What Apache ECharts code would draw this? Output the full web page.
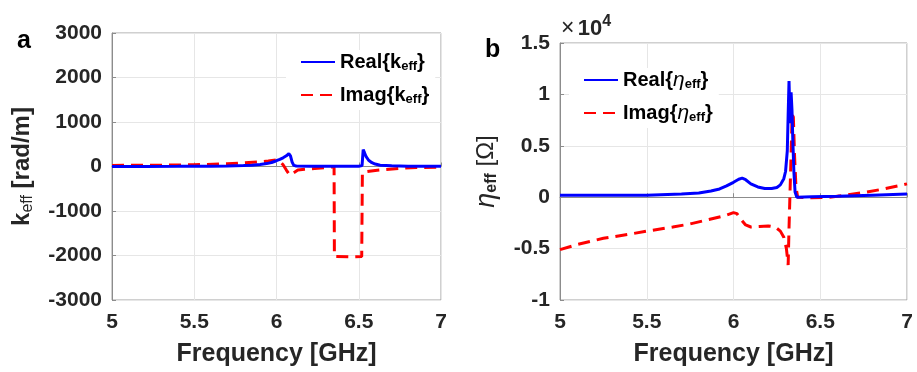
<!DOCTYPE html>
<html>
<head>
<meta charset="utf-8">
<script src="https://cdn.jsdelivr.net/npm/echarts@6/dist/echarts.min.js"></script>
<style>
html,body{margin:0;padding:0;background:#fff;}
#chart{width:917px;height:372px;}
</style>
</head>
<body>
<div id="chart"></div>
<script>
// ---- Data ----
const xTicks = [5, 5.5, 6, 6.5, 7];

// Panel a: k_eff [rad/m]
const kRealFreq = [5.0,5.2,5.4,5.6,5.7,5.8,5.85,5.9,5.94,5.97,6.0,6.02,6.04,6.06,6.075,6.085,6.095,6.105,6.12,6.2,6.3,6.4,6.5,6.52,6.527,6.535,6.545,6.56,6.58,6.6,6.63,6.7,6.8,7.0];
const kRealVal  = [0,2,4,8,12,20,30,45,65,90,130,160,195,240,290,240,100,25,10,5,3,3,6,20,380,310,220,140,85,55,30,15,8,5];

const kImagFreq = [5.0,5.3,5.5,5.7,5.8,5.9,5.95,6.0,6.02,6.04,6.06,6.08,6.09,6.1,6.13,6.17,6.25,6.33,6.35,6.352,6.45,6.518,6.522,6.54,6.6,6.65,6.75,6.85,7.0];
const kImagVal  = [25,30,40,60,80,105,125,150,120,40,-80,-190,-200,-150,-80,-60,-40,-10,0,-2020,-2030,-2020,-150,-120,-90,-70,-40,-25,-15];

// Panel b: eta_eff [Ohm], in units of 1e4
const etaRealFreq = [5.0,5.3,5.5,5.7,5.8,5.87,5.92,5.96,6.0,6.03,6.05,6.07,6.1,6.14,6.18,6.22,6.25,6.27,6.29,6.30,6.31,6.315,6.32,6.325,6.328,6.332,6.337,6.342,6.348,6.355,6.365,6.45,6.6,6.8,7.0];
const etaRealVal  = [0.02,0.02,0.02,0.03,0.04,0.06,0.08,0.11,0.145,0.175,0.185,0.17,0.13,0.10,0.085,0.085,0.095,0.12,0.18,0.25,0.45,0.8,1.13,0.8,0.72,1.02,0.85,0.55,0.25,0.05,0.0,0.005,0.01,0.02,0.03];

const etaImagFreq = [5.0,5.1,5.25,5.4,5.5,5.65,5.75,5.85,5.95,6.0,6.02,6.04,6.07,6.1,6.15,6.2,6.24,6.27,6.29,6.305,6.315,6.32,6.33,6.338,6.345,6.352,6.36,6.37,6.45,6.55,6.65,6.75,6.85,6.95,7.0];
const etaImagVal  = [-0.51,-0.46,-0.40,-0.36,-0.33,-0.29,-0.26,-0.22,-0.18,-0.15,-0.16,-0.21,-0.27,-0.29,-0.285,-0.28,-0.29,-0.33,-0.39,-0.5,-0.66,-0.3,0.3,0.8,0.78,0.4,0.1,0.0,-0.005,0.0,0.02,0.045,0.075,0.11,0.13];

const kTicks = [-3000,-2000,-1000,0,1000,2000,3000];
const etaTicks = [-1,-0.5,0,0.5,1,1.5];

const names = ['Real{k_eff}','Imag{k_eff}','Real{eta_eff}','Imag{eta_eff}'];

// ---- Helpers ----
const zip = (xs, ys) => xs.map((x, i) => [x, ys[i]]);
const FF = '"Liberation Sans", Arial, sans-serif';
const BLUE = '#0000ff', RED = '#ff0000';

const legendRich = {
  n: {fontSize:20, fontWeight:'bold', fontFamily:FF, color:'#000', lineHeight:22},
  s: {fontSize:13, fontWeight:'bold', fontFamily:FF, color:'#000', lineHeight:7, verticalAlign:'bottom'},
  it:{fontSize:21, fontStyle:'italic', fontWeight:'normal', fontFamily:FF, color:'#000', lineHeight:22}
};
const legendFmt = {
  'Real{k_eff}': '{n|Real{k}{s|eff}}',
  'Imag{k_eff}': '{n|Imag{k}{s|eff}}',
  'Real{eta_eff}': '{n|Real{}{it|η}{s|eff}}',
  'Imag{eta_eff}': '{n|Imag{}{it|η}{s|eff}}'
};

function xAxisCfg(gi) {
  return {
    type:'value', gridIndex:gi, min:5, max:7, interval:0.5,
    axisLine:{show:true, lineStyle:{color:'#8c8c8c', width:1}},
    axisTick:{show:true, inside:true, length:4, lineStyle:{color:'#8c8c8c'}},
    splitLine:{show:true, lineStyle:{color:'#e6e6e6', width:1}},
    axisLabel:{fontSize:21, fontWeight:'bold', fontFamily:FF, color:'#262626', margin:12,
      formatter: v => xTicks.includes(v) ? String(v) : ''},
    name:'Frequency [GHz]', nameLocation:'middle', nameGap:42,
    nameTextStyle:{fontSize:25, fontWeight:'bold', fontFamily:FF, color:'#262626'}
  };
}

const legendBase = {
  orient:'vertical', padding:[1,6,4,14], backgroundColor:'#fff',
  itemWidth:34, itemHeight:14, itemGap:11,
  itemStyle:{opacity:0},
  textStyle:{fontSize:20, fontWeight:'bold', fontFamily:FF, color:'#000', lineHeight:22, rich:legendRich},
  formatter: n => legendFmt[n]
};

const option = {
  backgroundColor:'#fff',
  animation:false,
  grid:[
    {left:112, top:33, width:329, height:270, show:true, borderColor:'#a0a0a0', borderWidth:1, containLabel:false},
    {left:560, top:43, width:347, height:260, show:true, borderColor:'#a0a0a0', borderWidth:1, containLabel:false}
  ],
  xAxis:[xAxisCfg(0), xAxisCfg(1)],
  yAxis:[
    {
      type:'value', gridIndex:0, min:kTicks[0], max:kTicks[kTicks.length-1], interval:1000,
      axisLine:{show:true, lineStyle:{color:'#8c8c8c'}},
      axisTick:{show:true, inside:true, length:4, lineStyle:{color:'#8c8c8c'}},
      splitLine:{show:true, lineStyle:{color:'#e6e6e6'}},
      axisLabel:{fontSize:21, fontWeight:'bold', fontFamily:FF, color:'#262626', margin:10,
        formatter: v => kTicks.includes(v) ? String(v) : ''},
      name:'{b|k}{s|eff}{b| [rad/m]}', nameLocation:'middle', nameGap:76, nameRotate:90,
      nameTextStyle:{
        rich:{
          b:{fontSize:24, fontWeight:'bold', fontFamily:FF, color:'#262626', lineHeight:28},
          s:{fontSize:16, fontWeight:'normal', fontFamily:FF, color:'#262626', lineHeight:10, verticalAlign:'bottom'}
        }
      }
    },
    {
      type:'value', gridIndex:1, min:etaTicks[0], max:etaTicks[etaTicks.length-1], interval:0.5,
      axisLine:{show:true, lineStyle:{color:'#8c8c8c'}},
      axisTick:{show:true, inside:true, length:4, lineStyle:{color:'#8c8c8c'}},
      splitLine:{show:true, lineStyle:{color:'#e6e6e6'}},
      axisLabel:{fontSize:21, fontWeight:'bold', fontFamily:FF, color:'#262626', margin:10,
        formatter: v => etaTicks.includes(v) ? String(v) : ''},
      name:'{it|η}{s|eff}{r| [Ω]}', nameLocation:'middle', nameGap:60, nameRotate:90,
      nameTextStyle:{
        rich:{
          it:{fontSize:27, fontStyle:'italic', fontFamily:FF, color:'#262626', lineHeight:28},
          s:{fontSize:16, fontWeight:'bold', fontFamily:FF, color:'#262626', lineHeight:10, verticalAlign:'bottom'},
          r:{fontSize:24, fontWeight:'normal', fontFamily:FF, color:'#262626', lineHeight:28}
        }
      }
    }
  ],
  legend:[
    Object.assign({}, legendBase, {data:[names[0], names[1]], left:286, top:50}),
    Object.assign({}, legendBase, {data:[names[2], names[3]], left:569, top:68})
  ],
  graphic:[
    {type:'text', left:17, top:29, style:{text:'a', fontSize:25, fontWeight:'bold', fontFamily:FF, fill:'#000'}},
    {type:'text', left:485, top:38, style:{text:'b', fontSize:25, fontWeight:'bold', fontFamily:FF, fill:'#000'}},
    {type:'text', left:561, top:14, style:{
      text:'{x|×} {t|10}{p|4}',
      rich:{
        x:{fontSize:23, fontFamily:FF, fill:'#262626', lineHeight:30},
        t:{fontSize:22, fontWeight:'bold', fontFamily:FF, fill:'#262626', lineHeight:30},
        p:{fontSize:16, fontWeight:'bold', fontFamily:FF, fill:'#262626', lineHeight:16, verticalAlign:'top'}
      }
    }}
  ],
  series:[
    {name:names[0], type:'line', xAxisIndex:0, yAxisIndex:0, data:zip(kRealFreq,kRealVal),
     symbol:'none', lineStyle:{color:BLUE, width:3}, itemStyle:{color:BLUE}, z:3},
    {name:names[1], type:'line', xAxisIndex:0, yAxisIndex:0, data:zip(kImagFreq,kImagVal),
     symbol:'none', lineStyle:{color:RED, width:3, type:[12,7]}, itemStyle:{color:RED}, z:2},
    {name:names[2], type:'line', xAxisIndex:1, yAxisIndex:1, data:zip(etaRealFreq,etaRealVal),
     symbol:'none', lineStyle:{color:BLUE, width:3}, itemStyle:{color:BLUE}, z:3},
    {name:names[3], type:'line', xAxisIndex:1, yAxisIndex:1, data:zip(etaImagFreq,etaImagVal),
     symbol:'none', lineStyle:{color:RED, width:3, type:[12,7]}, itemStyle:{color:RED}, z:2}
  ]
};

const chart = echarts.init(document.getElementById('chart'), null, {renderer:'canvas'});
chart.setOption(option);
</script>
</body>
</html>
